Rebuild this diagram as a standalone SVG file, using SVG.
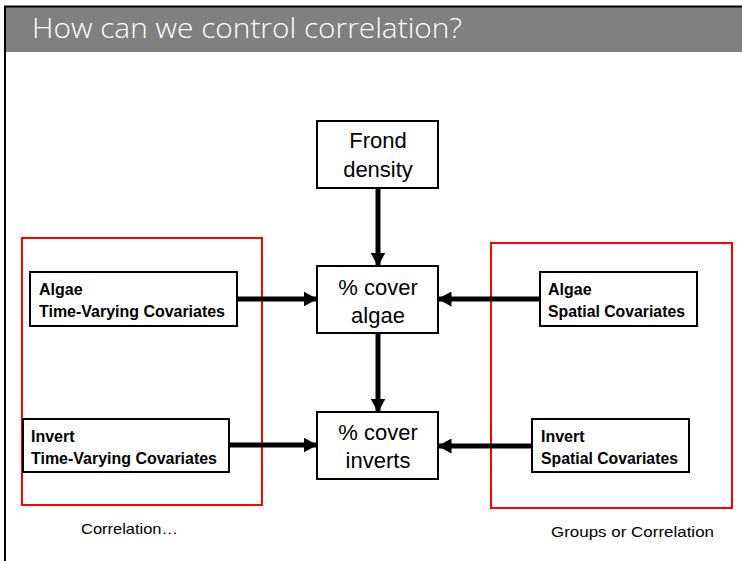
<svg xmlns="http://www.w3.org/2000/svg" width="742" height="561" viewBox="0 0 742 561">
  <defs>
    <style>
      .node { fill: #ffffff; stroke: #000000; stroke-width: 2; }
      .group { fill: none; stroke: #ff0000; stroke-width: 2; }
      .big { font-family: "Liberation Sans", Arial, sans-serif; font-size: 22px; fill: #000000; text-anchor: middle; }
      .lbl { font-family: "Liberation Sans", Arial, sans-serif; font-size: 16px; font-weight: bold; fill: #000000; }
      .cap { font-family: "Liberation Sans", Arial, sans-serif; font-size: 15px; fill: #000000; }
      .edge { stroke: #000000; stroke-width: 5; fill: none; }
    </style>
    <marker id="head" viewBox="0 0 14 15" refX="13.5" refY="7.5" markerWidth="14" markerHeight="15" markerUnits="userSpaceOnUse" orient="auto">
      <path d="M0,0 L14,7.5 L0,15 Z" fill="#000000"/>
    </marker>
  </defs>

  <!-- page frame and title bar -->
  <rect x="0" y="0" width="742" height="561" fill="#ffffff"/>
  <rect x="5" y="7" width="737" height="45" fill="#808080"/>
  <line x1="4" y1="6.5" x2="742" y2="6.5" stroke="#000000" stroke-width="2"/>
  <line x1="5" y1="6" x2="5" y2="561" stroke="#000000" stroke-width="2"/>
  <text x="32" y="38" font-family="'Open Sans', 'Liberation Sans', sans-serif" font-weight="300" font-size="27" fill="#ffffff" textLength="430" lengthAdjust="spacingAndGlyphs">How can we control correlation?</text>

  <!-- grouping outlines -->
  <rect class="group" x="22" y="238" width="240" height="267"/>
  <rect class="group" x="491" y="243" width="241" height="265"/>

  <!-- connectors -->
  <g id="connectors">
    <line class="edge" x1="378" y1="188" x2="378" y2="266" marker-end="url(#head)"/>
    <line class="edge" x1="378" y1="333" x2="378" y2="412" marker-end="url(#head)"/>
    <line class="edge" x1="237" y1="299" x2="317" y2="299" marker-end="url(#head)"/>
    <line class="edge" x1="229" y1="445" x2="317" y2="445" marker-end="url(#head)"/>
    <line class="edge" x1="540" y1="299" x2="438" y2="299" marker-end="url(#head)"/>
    <line class="edge" x1="532" y1="446" x2="438" y2="446" marker-end="url(#head)"/>
  </g>

  <!-- central chain -->
  <g id="frond-density">
    <rect class="node" x="317" y="121" width="121" height="67"/>
    <text class="big" x="378" y="148">Frond</text>
    <text class="big" x="378" y="177">density</text>
  </g>
  <g id="cover-algae">
    <rect class="node" x="317" y="266" width="121" height="67"/>
    <text class="big" x="378" y="295">% cover</text>
    <text class="big" x="378" y="323">algae</text>
  </g>
  <g id="cover-inverts">
    <rect class="node" x="317" y="412" width="121" height="67"/>
    <text class="big" x="378" y="440">% cover</text>
    <text class="big" x="378" y="468">inverts</text>
  </g>

  <!-- time-varying covariates -->
  <g id="algae-tv">
    <rect class="node" x="30" y="272" width="207" height="54"/>
    <text class="lbl" x="39" y="295">Algae</text>
    <text class="lbl" x="39" y="317" textLength="186" lengthAdjust="spacingAndGlyphs">Time-Varying Covariates</text>
  </g>
  <g id="invert-tv">
    <rect class="node" x="23" y="419" width="206" height="53"/>
    <text class="lbl" x="31" y="442">Invert</text>
    <text class="lbl" x="31" y="464" textLength="186" lengthAdjust="spacingAndGlyphs">Time-Varying Covariates</text>
  </g>

  <!-- spatial covariates -->
  <g id="algae-spatial">
    <rect class="node" x="540" y="272" width="157" height="54"/>
    <text class="lbl" x="548" y="295">Algae</text>
    <text class="lbl" x="548" y="317" textLength="137" lengthAdjust="spacingAndGlyphs">Spatial Covariates</text>
  </g>
  <g id="invert-spatial">
    <rect class="node" x="532" y="419" width="157" height="53"/>
    <text class="lbl" x="541" y="442">Invert</text>
    <text class="lbl" x="541" y="464" textLength="137" lengthAdjust="spacingAndGlyphs">Spatial Covariates</text>
  </g>

  <!-- captions -->
  <text class="cap" x="81" y="534" textLength="97" lengthAdjust="spacingAndGlyphs">Correlation…</text>
  <text class="cap" x="551" y="537" textLength="163" lengthAdjust="spacingAndGlyphs">Groups or Correlation</text>
</svg>
